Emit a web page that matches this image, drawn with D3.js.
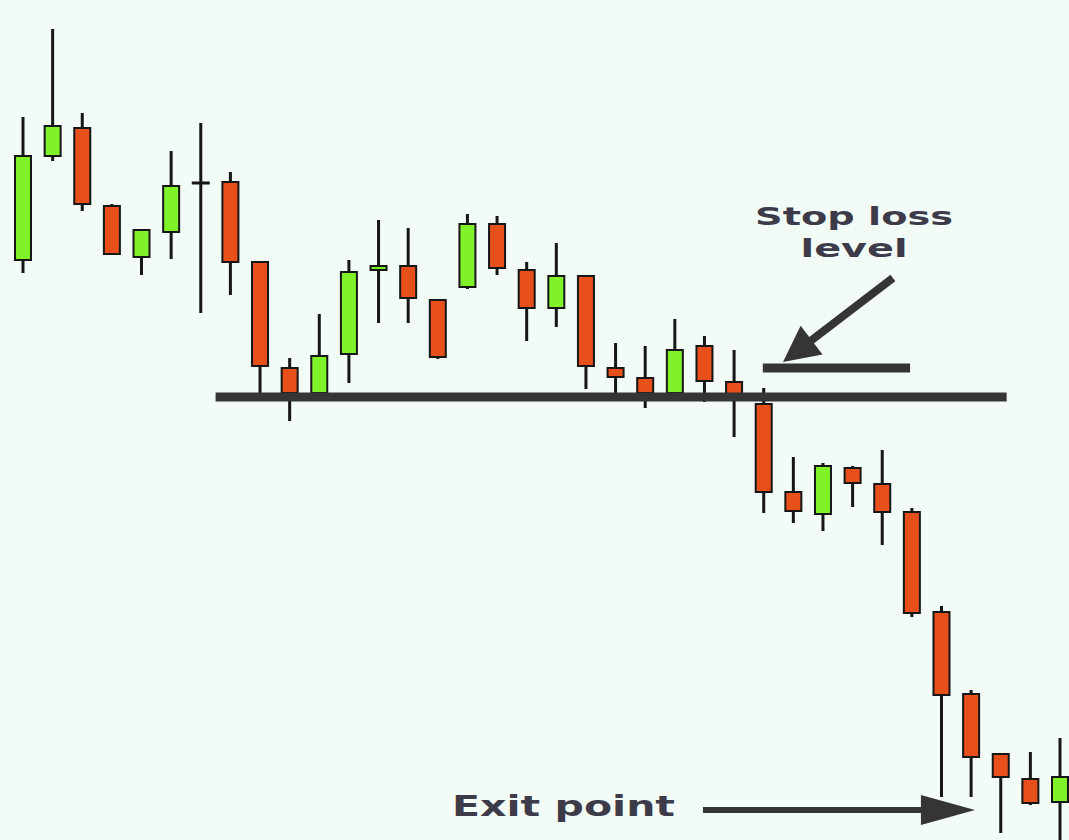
<!DOCTYPE html>
<html>
<head>
<meta charset="utf-8">
<script src="https://cdn.jsdelivr.net/npm/d3@7"></script>
<style>
  html, body { margin: 0; padding: 0; background: #f3fbf7; }
  svg { display: block; }
  .label { font-family: "DejaVu Sans", Verdana, sans-serif; font-weight: bold; fill: #3d3b4a; }
</style>
</head>
<body>
<svg id="chart" width="1069" height="840"></svg>
<script>
// candle data (arbitrary price units)
var opens  = [60.0, 70.4, 73.2, 65.4, 60.3, 62.8, 67.7, 67.8, 59.8, 49.2, 46.7, 50.6, 59.0, 59.4, 56.0, 57.3, 63.6, 59.0,
              55.2, 58.4, 49.2, 48.2, 46.7, 51.4, 47.8, 45.6, 36.8, 34.6, 39.2, 37.6, 34.8, 24.8, 16.6, 10.6, 8.1, 5.8];
var closes = [70.4, 73.4, 65.6, 60.6, 63.0, 67.4, 67.7, 59.8, 49.4, 46.7, 50.4, 58.8, 59.4, 56.2, 50.3, 63.6, 59.2, 55.2,
              58.4, 49.4, 48.3, 46.7, 51.0, 47.9, 46.5, 36.8, 34.9, 39.4, 37.7, 34.8, 24.7, 16.5, 10.3, 8.3, 5.7, 8.3];
var highs  = [74.3, 83.1, 74.7, 65.6, 63.0, 70.9, 73.7, 68.8, 59.8, 50.2, 54.6, 60.0, 64.0, 63.2, 56.0, 64.6, 64.4, 59.8,
              61.7, 58.4, 51.7, 51.4, 54.1, 52.4, 51.0, 47.2, 40.3, 39.7, 39.4, 41.0, 35.2, 25.4, 17.0, 10.6, 10.8, 12.2];
var lows   = [58.7, 69.9, 64.9, 60.6, 58.5, 60.1, 54.7, 56.5, 46.7, 43.9, 46.7, 47.7, 53.7, 53.7, 50.1, 57.1, 58.5, 51.9,
              53.3, 47.1, 46.7, 45.2, 46.7, 45.8, 42.3, 34.7, 33.7, 32.9, 35.3, 31.5, 24.3, 6.3, 6.3, 2.7, 5.5, -2.0];

// annotations
var supportLevel = 46.3, supportFrom = 6.5, supportTo = 33.2;
var stopLevel = 49.2, stopFrom = 24.97, stopTo = 29.94;
var stopArrowFrom = [29.36, 58.2], stopArrowTo = [25.65, 49.8];
var exitLevel = 5.0, exitFrom = 22.95, exitTo = 32.13;
var stopText = ["Stop loss", "level"];
var exitText = "Exit point";

var svg = d3.select("#chart");

var x = d3.scaleLinear().domain([0, opens.length - 1]).range([23, 1060]);
var y = d3.scaleLinear().domain([0, 86]).range([860, 0]);

var bodyW = 16;
var candles = d3.range(opens.length).map(function(i) {
  return {i: i, o: opens[i], c: closes[i], h: highs[i], l: lows[i]};
});

var g = svg.append("g");

// wicks
g.selectAll("line.wick")
  .data(candles)
  .enter().append("line")
  .attr("class", "wick")
  .attr("x1", function(d) { return x(d.i); })
  .attr("x2", function(d) { return x(d.i); })
  .attr("y1", function(d) { return y(d.h); })
  .attr("y2", function(d) { return y(d.l); })
  .attr("stroke", "#161616")
  .attr("stroke-width", 3);

// bodies
g.selectAll("rect.body")
  .data(candles.filter(function(d) { return d.o !== d.c; }))
  .enter().append("rect")
  .attr("class", "body")
  .attr("x", function(d) { return x(d.i) - bodyW / 2; })
  .attr("y", function(d) { return y(Math.max(d.o, d.c)); })
  .attr("width", bodyW)
  .attr("height", function(d) { return Math.max(2, Math.abs(y(d.o) - y(d.c))); })
  .attr("fill", function(d) { return d.c > d.o ? "#80f22a" : "#e8501b"; })
  .attr("stroke", "#161616")
  .attr("stroke-width", 2);

// doji
g.selectAll("line.doji")
  .data(candles.filter(function(d) { return d.o === d.c; }))
  .enter().append("line")
  .attr("class", "doji")
  .attr("x1", function(d) { return x(d.i) - bodyW / 2 - 1; })
  .attr("x2", function(d) { return x(d.i) + bodyW / 2 + 1; })
  .attr("y1", function(d) { return y(d.o); })
  .attr("y2", function(d) { return y(d.o); })
  .attr("stroke", "#161616")
  .attr("stroke-width", 3);

var ink = "#353535";

// support line
svg.append("line")
  .attr("x1", x(supportFrom)).attr("x2", x(supportTo))
  .attr("y1", y(supportLevel)).attr("y2", y(supportLevel))
  .attr("stroke", ink).attr("stroke-width", 9);

// stop loss bar
svg.append("line")
  .attr("x1", x(stopFrom)).attr("x2", x(stopTo))
  .attr("y1", y(stopLevel)).attr("y2", y(stopLevel))
  .attr("stroke", ink).attr("stroke-width", 9);

function arrow(x0, y0, x1, y1, sw, headLen, headHalf) {
  var dx = x1 - x0, dy = y1 - y0, len = Math.sqrt(dx * dx + dy * dy);
  var ux = dx / len, uy = dy / len;
  var bx = x1 - ux * headLen, by = y1 - uy * headLen;
  svg.append("line")
    .attr("x1", x0).attr("y1", y0).attr("x2", bx + ux * 2).attr("y2", by + uy * 2)
    .attr("stroke", ink).attr("stroke-width", sw);
  svg.append("polygon")
    .attr("points", [[x1, y1], [bx - uy * headHalf, by + ux * headHalf], [bx + uy * headHalf, by - ux * headHalf]]
      .map(function(p) { return p.join(","); }).join(" "))
    .attr("fill", ink);
}

arrow(x(stopArrowFrom[0]), y(stopArrowFrom[1]), x(stopArrowTo[0]), y(stopArrowTo[1]), 8, 36, 18);
arrow(x(exitFrom), y(exitLevel), x(exitTo), y(exitLevel), 6, 54, 15);

// labels, stretched to the wide lettering of the picture
var stopLabel = svg.append("text").attr("class", "label")
  .attr("font-size", 25)
  .attr("text-anchor", "middle");
stopLabel.append("tspan")
  .attr("x", x(28.05)).attr("y", y(63.5))
  .attr("textLength", 198).attr("lengthAdjust", "spacingAndGlyphs")
  .text(stopText[0]);
stopLabel.append("tspan")
  .attr("x", x(28.05)).attr("y", y(60.3))
  .attr("textLength", 107).attr("lengthAdjust", "spacingAndGlyphs")
  .text(stopText[1]);

svg.append("text").attr("class", "label")
  .attr("font-size", 28)
  .attr("x", x(14.48)).attr("y", y(4.4))
  .attr("textLength", 223).attr("lengthAdjust", "spacingAndGlyphs")
  .text(exitText);
</script>
</body>
</html>
